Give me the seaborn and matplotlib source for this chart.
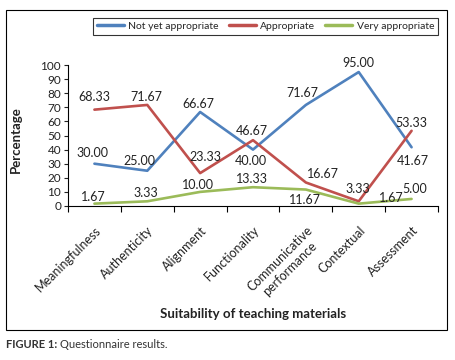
import pandas as pd
import seaborn as sns
import matplotlib.pyplot as plt
from matplotlib.patches import Rectangle

# Chart data
categories = ["Meaningfulness", "Authenticity", "Alignment", "Functionality",
              "Communicative\nperformance", "Contextual", "Assessment"]
not_yet = [30.00, 25.00, 66.67, 40.00, 71.67, 95.00, 41.67]
appropriate = [68.33, 71.67, 23.33, 46.67, 16.67, 3.33, 53.33]
very = [1.67, 3.33, 10.00, 13.33, 11.67, 1.67, 5.00]
series_names = ["Not yet appropriate", "Appropriate", "Very appropriate"]
colors = ["#4F81BD", "#C0504D", "#9BBB59"]

# label offsets in pixels (dx, dy), dy positive = down
label_offsets = {
    "Not yet appropriate": [(-2, -11), (-8, -10), (-2, -8), (-2, 11), (-3, -12), (0, -9), (1, 14)],
    "Appropriate": [(0, -13), (-1, -8), (5, -16), (-1, -9), (17, -8), (-1, -12), (0, -8)],
    "Very appropriate": [(-1, -7), (-1, -8), (-2, -7), (-1, -8), (-1, 10), (33, -6), (3, -10)],
}

df = pd.DataFrame({
    "category": categories * 3,
    "value": not_yet + appropriate + very,
    "series": [s for s in series_names for _ in categories],
})

sns.set_style("white")
plt.rcParams["font.family"] = ["Lato", "DejaVu Sans"]

fig = plt.figure(figsize=(4.55, 3.6), dpi=100)
ax = fig.add_axes([68 / 455, 1 - 206 / 360, 370 / 455, 141 / 360])

sns.lineplot(data=df, x="category", y="value", hue="series", hue_order=series_names,
             palette=colors, sort=False, linewidth=1.9, ax=ax)

# data labels
for name, vals in zip(series_names, [not_yet, appropriate, very]):
    for i, v in enumerate(vals):
        dx, dy = label_offsets[name][i]
        ax.annotate(f"{v:.2f}", (i, v), xytext=(dx, -dy), textcoords="offset pixels",
                    ha="center", va="center", fontsize=9, color="#222222")

ax.set_xlim(-0.5, len(categories) - 0.5)
ax.set_ylim(0, 100)
ax.set_yticks(range(0, 101, 10))
ax.tick_params(axis="y", which="major", left=True, length=3, width=0.8,
               labelsize=8.5, pad=2, colors="#222222")
ax.set_xticks(range(len(categories)))
ax.set_xticklabels(categories, rotation=45, ha="right", rotation_mode="anchor",
                   fontsize=9, multialignment="center")
ax.tick_params(axis="x", which="major", length=0, pad=13, labelcolor="#222222")
ax.set_xticks([i - 0.5 for i in range(len(categories) + 1)], minor=True)
ax.tick_params(axis="x", which="minor", bottom=True, length=4, width=0.8, color="black")

for side in ["top", "right"]:
    ax.spines[side].set_visible(False)
for side in ["left", "bottom"]:
    ax.spines[side].set_color("black")
    ax.spines[side].set_linewidth(0.8)

ax.set_ylabel("Percentage", fontsize=9.5, fontweight="bold", color="#222222")
ax.yaxis.set_label_coords(-0.125, 0.47)
ax.set_xlabel("Suitability of teaching materials", fontsize=9.5, fontweight="bold",
              color="#222222")
ax.xaxis.set_label_coords(0.5, -0.72)

# legend on top in a boxed row
handles, labels = ax.get_legend_handles_labels()
ax.get_legend().remove()
for h in handles:
    h.set_linewidth(2.5)
leg = fig.legend(handles, labels, loc="upper right", bbox_to_anchor=(443 / 455, 1 - 13 / 360),
                 ncol=3, fontsize=7.5, frameon=True, fancybox=False, handlelength=2.6,
                 columnspacing=1.0, handletextpad=0.4, borderpad=0.35)
leg.get_frame().set_edgecolor("black")
leg.get_frame().set_linewidth(0.8)

# outer border and caption
fig.patches.append(Rectangle((6 / 455, 1 - 330 / 360), 441 / 455, 320 / 360,
                             transform=fig.transFigure, fill=False,
                             edgecolor="black", linewidth=0.8))
cap = fig.text(6 / 455, 1 - 344 / 360, "FIGURE 1:", fontsize=8, fontweight="bold",
               color="#333333", va="center")
fig.canvas.draw()
bb = cap.get_window_extent().transformed(fig.transFigure.inverted())
fig.text(bb.x1 + 3 / 455, 1 - 344 / 360, "Questionnaire results.", fontsize=8,
         color="#333333", va="center")

fig.savefig("out.png", dpi=100)
